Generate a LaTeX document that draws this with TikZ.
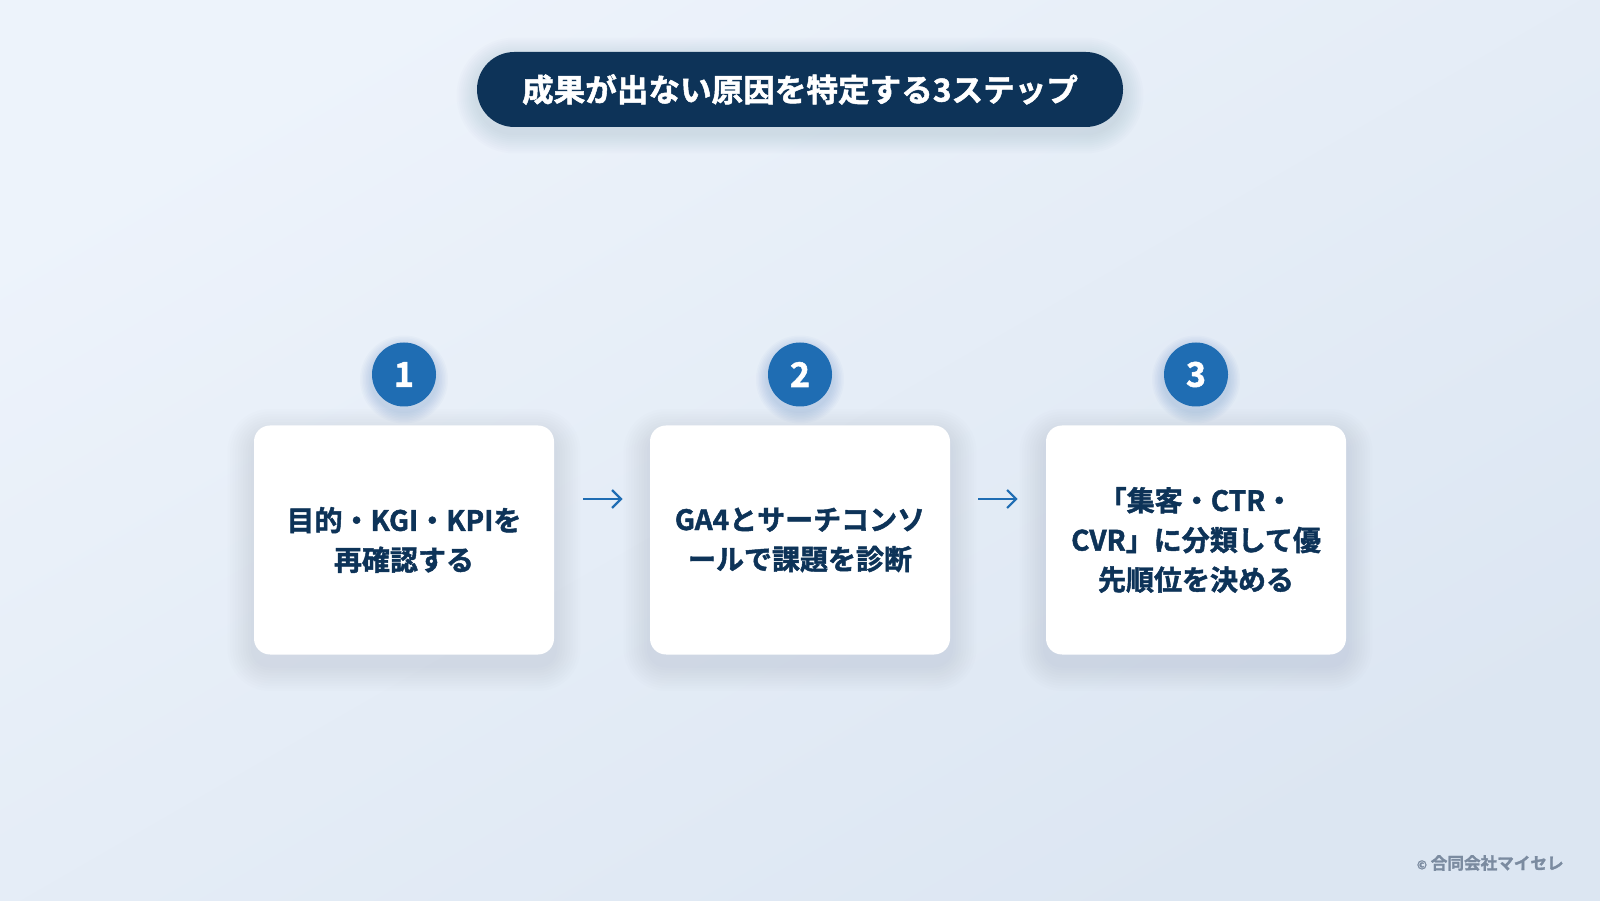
\documentclass[tikz,border=0pt]{standalone}
\usepackage{fontspec}
\setmainfont{Noto Sans CJK JP}[BoldFont={Noto Sans CJK JP Bold}, BoldFeatures={FakeBold=1.6}]
\usetikzlibrary{arrows.meta,calc}
\definecolor{navy}{HTML}{0D3358}
\definecolor{stepblue}{HTML}{1F6DB3}
\definecolor{bgA}{HTML}{EDF3FB}
\definecolor{bgB}{HTML}{DCE6F2}
\definecolor{copygray}{HTML}{7B8BA0}
\definecolor{shadowc}{HTML}{6F87A8}
\definecolor{circshadow}{HTML}{4A7DB8}
\pgfdeclarelayer{bgfill}
\pgfdeclarelayer{shadowlayer}
\pgfsetlayers{bgfill,shadowlayer,main}
\tikzset{
  titlepill/.style={fill=navy, rounded corners=18.7pt, minimum width=323pt, minimum height=37.5pt,
    text=white, font=\bfseries\fontsize{15.8}{20}\selectfont},
  stepnum/.style={circle, fill=stepblue, minimum size=32pt, inner sep=0pt, text=white,
    font=\bfseries\fontsize{17}{17}\selectfont},
  stepbox/.style={fill=white, rounded corners=8pt, minimum width=150pt, minimum height=114.5pt,
    inner sep=0pt, align=center, text=navy, font=\bfseries\fontsize{14}{19.8}\selectfont},
  flow/.style={draw=stepblue, line width=1.1pt, -{Straight Barb[length=4.5pt,width=9pt,line width=1.1pt]}},
  copytext/.style={text=copygray, font=\bfseries\fontsize{8.3}{10}\selectfont, anchor=east, inner sep=0pt}
}
% soft shadow for a rounded box: node, base corner radius (pt), spread step (units), y offset (units), colour, opacity
\newcommand\boxsoftshadow[6]{%
  \foreach \i [evaluate=\i as \r using #2+\i*#3*0.5] in {1,...,10} {
    \fill[#5, opacity=#6, rounded corners=\r pt]
      ($(#1.south west)+(-\i*#3,-\i*#3-#4)$) rectangle ($(#1.north east)+(\i*#3,\i*#3-#4)$);
  }}
\newcommand\circsoftshadow[5]{%
  \foreach \i [evaluate=\i as \rr using 32+\i*#2] in {1,...,8} {
    \fill[#4, opacity=#5] ($(#1.center)+(0,-#3)$) circle (\rr);
  }}
\begin{document}
\begin{tikzpicture}[x=0.5pt,y=0.5pt]
\useasboundingbox (0,0) rectangle (1600,900);
\begin{pgfonlayer}{bgfill}
\shade[shading=axis, top color=bgA, bottom color=bgB, shading angle=30] (0,0) rectangle (1600,900);
\end{pgfonlayer}

\node[titlepill] (title) at (800,810.5) {成果が出ない原因を特定する3ステップ};

\node[stepbox] (b1) at (404,360) {目的・KGI・KPIを\\再確認する};
\node[stepbox] (b2) at (800,360) {GA4とサーチコンソ\\ールで課題を診断};
\node[stepbox] (b3) at (1196,360) {「集客・CTR・\\CVR」に分類して優\\先順位を決める};

\node[stepnum] (n1) at (404,525.5) {1};
\node[stepnum] (n2) at (800,525.5) {2};
\node[stepnum] (n3) at (1196,525.5) {3};

\draw[flow] ($(b1.east)+(29,41)$) -- ($(b2.west)+(-27,41)$);
\draw[flow] ($(b2.east)+(28,41)$) -- ($(b3.west)+(-28,41)$);

\node[copytext] (copy) at (1564,37) {{\fontsize{6}{8}\selectfont ©}\ 合同会社マイセレ};

\begin{pgfonlayer}{shadowlayer}
\boxsoftshadow{title}{18.7}{2}{6}{shadowc}{0.02}
\boxsoftshadow{b1}{8}{2.6}{10}{shadowc}{0.017}
\boxsoftshadow{b2}{8}{2.6}{10}{shadowc}{0.017}
\boxsoftshadow{b3}{8}{2.6}{10}{shadowc}{0.017}
\circsoftshadow{n1}{1.5}{5}{circshadow}{0.03}
\circsoftshadow{n2}{1.5}{5}{circshadow}{0.03}
\circsoftshadow{n3}{1.5}{5}{circshadow}{0.03}
\end{pgfonlayer}
\end{tikzpicture}
\end{document}
